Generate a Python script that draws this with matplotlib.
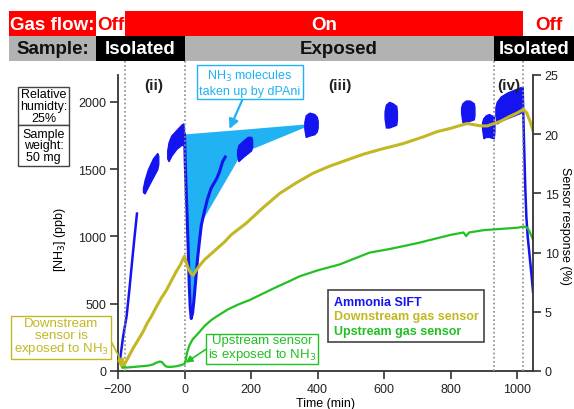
import matplotlib
matplotlib.use("Agg")
import matplotlib.pyplot as plt
from matplotlib.lines import Line2D
from matplotlib.patches import Rectangle

plt.rcParams["font.family"] = ["Liberation Sans", "DejaVu Sans"]

W, H = 574, 410

# Ammonia SIFT, ppb (continuous stretches)
sift_rise_t = [-194, -185, -174, -166, -159, -151, -143]
sift_rise_ppb = [80, 250, 410, 600, 780, 980, 1170]
sift_dip_t = [0, 2, 5, 8, 11, 14, 17, 20, 24, 28, 32, 39, 45, 50, 60, 69, 80, 96, 105, 114, 122]
sift_dip_ppb = [1760, 1550, 1330, 1130, 900, 640, 470, 390, 430, 520, 634, 833, 970,
                1080, 1190, 1279, 1360, 1428, 1480, 1554, 1590]
sift_drop_t = [1016, 1020, 1024, 1027, 1031, 1035, 1039, 1043, 1047]
sift_drop_ppb = [2100, 1700, 1350, 1150, 1000, 900, 800, 700, 590]

# Ammonia SIFT, scattered blocks: time, lower and upper edge of the cloud (ppb)
sift_block_t = [[-125, -120, -110, -95, -82, -79],
                [-52, -48, -40, -25, -10, -4, -2],
                [158, 162, 175, 190, 200, 203],
                [360, 364, 375, 390, 397, 400],
                [601, 605, 615, 625, 636, 638],
                [831, 835, 845, 857, 869, 871],
                [894, 898, 905, 915, 929, 931],
                [934, 938, 950, 970, 990, 1010, 1014]]
sift_block_lo = [[1330, 1320, 1370, 1440, 1500, 1540],
                 [1580, 1560, 1600, 1650, 1680, 1680, 1720],
                 [1600, 1560, 1590, 1620, 1640, 1670],
                 [1800, 1740, 1750, 1760, 1780, 1810],
                 [1880, 1810, 1810, 1820, 1830, 1870],
                 [1920, 1850, 1850, 1860, 1870, 1900],
                 [1800, 1730, 1740, 1740, 1730, 1780],
                 [1900, 1840, 1860, 1880, 1900, 1920, 1980]]
sift_block_hi = [[1360, 1420, 1500, 1580, 1620, 1600],
                 [1640, 1700, 1750, 1790, 1830, 1840, 1800],
                 [1640, 1680, 1710, 1740, 1740, 1720],
                 [1850, 1900, 1920, 1910, 1890, 1860],
                 [1930, 1980, 2000, 1990, 1970, 1930],
                 [1960, 1990, 2010, 2010, 1990, 1960],
                 [1850, 1880, 1900, 1910, 1890, 1840],
                 [1960, 2000, 2040, 2070, 2090, 2110, 2080]]

# NH3 taken up by dPAni (shaded area between SIFT and the reference level)
uptake_t = [0, 5, 11, 17, 20, 24, 32, 39, 55, 160, 200, 362]
uptake_lo = [1760, 1330, 900, 470, 390, 430, 634, 833, 1130, 1576, 1650, 1815]
uptake_hi = [1762, 1763, 1764, 1765, 1766, 1767, 1769, 1770, 1773, 1794, 1802, 1836]

# Downstream gas sensor, %
down_t = [-197, -192, -186, -180, -170, -155, -140, -125, -113, -100, -85, -69, -55,
          -40, -25, -12, -4, 0, 5, 12, 20, 26, 35, 45, 60, 84, 96, 120, 140, 186, 236,
          286, 336, 386, 436, 486, 536, 586, 656, 720, 757, 800, 848, 870, 890, 910,
          930, 950, 977, 1000, 1018, 1028, 1038, 1047]
down_pct = [1.0, 0.6, 0.3, 0.6, 1.1, 1.9, 2.6, 3.3, 4.0, 4.6, 5.4, 6.2, 6.8,
            7.6, 8.4, 9.0, 9.5, 9.7, 9.2, 8.6, 8.2, 8.1, 8.5, 8.9, 9.4, 10.0, 10.3,
            10.9, 11.5, 12.5, 13.8, 15.0, 15.9, 16.7, 17.3, 17.8, 18.3, 18.7, 19.2,
            19.8, 20.2, 20.5, 20.9, 20.8, 20.7, 20.7, 20.9, 21.1, 21.5, 21.8, 22.1,
            21.8, 21.1, 20.3]

# Upstream gas sensor, %
up_t = [-186, -170, -150, -130, -110, -95, -85, -74, -68, -62, -57, -50, -40, -25,
        -10, 0, 4, 8, 15, 25, 35, 45, 60, 80, 96, 130, 160, 196, 240, 277, 316, 346,
        400, 466, 520, 556, 616, 700, 757, 800, 838, 846, 855, 900, 950, 1000, 1020,
        1030, 1038, 1047]
up_pct = [0.3, 0.3, 0.35, 0.4, 0.45, 0.55, 0.7, 0.8, 0.75, 0.55, 0.4, 0.35, 0.35,
          0.4, 0.5, 0.6, 1.0, 1.6, 2.2, 2.7, 3.0, 3.3, 3.8, 4.3, 4.6, 5.2, 5.6, 6.0,
          6.6, 7.1, 7.6, 8.0, 8.5, 9.0, 9.6, 10.0, 10.3, 10.8, 11.2, 11.5, 11.7, 11.4,
          11.7, 11.9, 12.0, 12.1, 12.2, 12.1, 11.7, 11.1]

# vertical markers, min
event_t = [-179, 0, 929, 1016]
period_labels = ["(ii)", "(iii)", "(iv)"]
period_t = [-92, 466, 975]
flow_labels = ["Gas flow:", "Off", "On", "Off"]
sample_labels = ["Sample:", "Isolated", "Exposed", "Isolated"]
legend_labels = ["Ammonia SIFT", "Downstream gas sensor", "Upstream gas sensor"]

BLUE = "#1414f0"
OLIVE = "#c2b824"
GREEN = "#22c022"
CYAN = "#20b2f2"
DARK = "#333333"


def fig_xy(x, y):
    """pixel position (from top-left) -> figure fraction"""
    return x / W, 1 - y / H


fig = plt.figure(figsize=(W / 100, H / 100), dpi=100)
ax = fig.add_axes([118 / W, 1 - 372 / H, 415 / W, 296 / H])
ax2 = ax.twinx()

ax.set_xlim(-200, 1047)
ax.set_ylim(0, 2200)
ax2.set_ylim(0, 25)

# SIFT
ax.fill_between(uptake_t, uptake_lo, uptake_hi, color=CYAN, lw=0, zorder=1)
for t, lo, hi in zip(sift_block_t, sift_block_lo, sift_block_hi):
    ax.fill_between(t, lo, hi, color=BLUE, lw=1, edgecolor=BLUE, zorder=2)
ax.plot(sift_rise_t, sift_rise_ppb, color=BLUE, lw=1.8, zorder=2)
ax.plot(sift_dip_t, sift_dip_ppb, color=BLUE, lw=2.2, zorder=2)
ax.plot(sift_drop_t, sift_drop_ppb, color=BLUE, lw=1.8, zorder=2)

# sensors
ax2.plot(down_t, down_pct, color=OLIVE, lw=2.2)
ax2.plot(up_t, up_pct, color=GREEN, lw=1.6)

for t in event_t:
    ax.axvline(t, ymin=0, ymax=1.047, color="#8a8a8a", lw=1.2,
               linestyle=(0, (1, 1.5)), clip_on=False, zorder=3)

for lab, t in zip(period_labels, period_t):
    ax.text(t, 2126, lab, ha="center", va="center", fontsize=11,
            fontweight="bold", color="#222222")

# axes styling
ax.spines["top"].set_visible(False)
ax.spines["right"].set_visible(False)
for s in ["top", "left", "bottom"]:
    ax2.spines[s].set_visible(False)
for s in [ax.spines["left"], ax.spines["bottom"], ax2.spines["right"]]:
    s.set_linewidth(1.3)
    s.set_color(DARK)
ax.set_xticks([-200, 0, 200, 400, 600, 800, 1000])
ax.set_yticks([0, 500, 1000, 1500, 2000])
ax2.set_yticks([0, 5, 10, 15, 20, 25])
for a in (ax, ax2):
    a.tick_params(direction="out", length=5.5, width=1.2, color=DARK,
                  labelsize=9, labelcolor="#222222", pad=3)

fig.text(*fig_xy(60, 240), "[NH$_3$] (ppb)", rotation=90, ha="center",
         va="center", fontsize=9)
fig.text(*fig_xy(565, 226), "Sensor response (%)", rotation=270, ha="center",
         va="center", fontsize=9)
fig.text(*fig_xy(326, 398), "Time (min)", ha="center", va="top", fontsize=9)

# status bars on top
ev_px = [ax.transData.transform((t, 0))[0] for t in event_t]


def bar(x0, x1, y0, y1, color):
    fig.add_artist(Rectangle(fig_xy(x0, y1), (x1 - x0) / W, (y1 - y0) / H,
                             transform=fig.transFigure, facecolor=color,
                             edgecolor="none"))


def bar_text(x, y, s, color):
    fig.text(*fig_xy(x, y), s, ha="center", va="center", fontsize=13.5,
             fontweight="bold", color=color)


bar(9, 96, 12, 37, "#ff0000")
bar(ev_px[0], ev_px[3], 12, 37, "#ff0000")
bar_text(52.5, 25, flow_labels[0], "white")
bar_text((96 + ev_px[0]) / 2, 25, flow_labels[1], "#ff0000")
bar_text((ev_px[0] + ev_px[3]) / 2, 25, flow_labels[2], "white")
bar_text(549, 25, flow_labels[3], "#ff0000")

bar(9, 96, 37, 62, "#b2b2b2")
bar(96, ev_px[1], 37, 62, "black")
bar(ev_px[1], ev_px[2], 37, 62, "#b2b2b2")
bar(ev_px[2], W, 37, 62, "black")
bar_text(52.5, 50, sample_labels[0], "#111111")
bar_text((96 + ev_px[1]) / 2, 50, sample_labels[1], "white")
bar_text((ev_px[1] + ev_px[2]) / 2, 50, sample_labels[2], "#111111")
bar_text(534, 50, sample_labels[3], "white")

# condition boxes
for (y0, y1), s in zip([(88, 126), (126, 167)],
                       ["Relative\nhumidty:\n25%", "Sample\nweight:\n50 mg"]):
    fig.add_artist(Rectangle(fig_xy(18, y1), 51 / W, (y1 - y0) / H,
                             transform=fig.transFigure, facecolor="white",
                             edgecolor="#444444", lw=1))
    fig.text(*fig_xy(43.5, (y0 + y1) / 2), s, ha="center", va="center",
             fontsize=9, linespacing=0.95)

# annotations
ax2.annotate("NH$_3$ molecules\ntaken up by dPAni", xy=(135, 1799 * 25 / 2200),
             xytext=fig_xy(250, 83.5), textcoords="figure fraction",
             ha="center", va="center", fontsize=9, color=CYAN,
             bbox=dict(boxstyle="square,pad=0.15", fc="white", ec=CYAN, lw=1),
             arrowprops=dict(arrowstyle="-|>", color=CYAN, lw=1.6,
                             mutation_scale=14, shrinkA=0, shrinkB=0),
             annotation_clip=False)
ax2.annotate("Downstream\nsensor is\nexposed to NH$_3$", xy=(-182, 0.4),
             xytext=fig_xy(61, 337.5), textcoords="figure fraction",
             ha="center", va="center", fontsize=9.5, color=OLIVE,
             linespacing=0.95,
             bbox=dict(boxstyle="square,pad=0.2", fc="white", ec=OLIVE, lw=1),
             arrowprops=dict(arrowstyle="-|>", color=OLIVE, lw=1.2,
                             mutation_scale=10, shrinkA=0, shrinkB=0,
                             relpos=(1, 0.5)),
             annotation_clip=False)
ax2.annotate("Upstream sensor\nis exposed to NH$_3$", xy=(3, 0.7),
             xytext=fig_xy(262, 349), textcoords="figure fraction",
             ha="center", va="center", fontsize=9.5, color=GREEN,
             linespacing=0.95,
             bbox=dict(boxstyle="square,pad=0.15", fc="white", ec=GREEN, lw=1),
             arrowprops=dict(arrowstyle="-|>", color=GREEN, lw=1.2,
                             mutation_scale=10, shrinkA=0, shrinkB=0,
                             relpos=(0, 0.5)),
             annotation_clip=False)

handles = [Line2D([], [], color=c) for c in (BLUE, OLIVE, GREEN)]
leg = ax2.legend(handles, legend_labels, loc="upper left",
                 bbox_to_anchor=fig_xy(328, 291), bbox_transform=fig.transFigure,
                 borderaxespad=0, handlelength=0, handletextpad=0,
                 labelcolor="linecolor", fancybox=False, framealpha=1,
                 edgecolor="#444444", borderpad=0.45, labelspacing=0.2,
                 prop=dict(size=9, weight="bold"))
leg.get_frame().set_linewidth(1.2)

fig.savefig("out.png", dpi=100)
